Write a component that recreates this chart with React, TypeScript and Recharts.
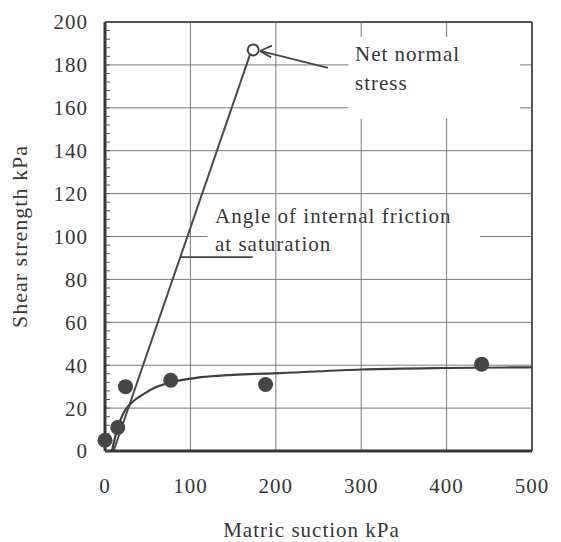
import React from "react";
import {
  ComposedChart,
  Line,
  Scatter,
  XAxis,
  YAxis,
  ReferenceLine,
  Label,
} from "recharts";

// measured points (filled)
const pointSuction = [0, 15, 24, 77, 188, 441];
const pointStrength = [5, 11, 30, 33, 31, 40.5];

// fitted curve through the measured points
const curveSuction = [8, 15, 22, 30, 45, 60, 77, 105, 150, 205, 300, 400, 500];
const curveStrength = [0, 11, 18, 22, 26.5, 29.8, 32, 34, 35.5, 36.3, 38, 38.7, 39];

// straight line, angle of internal friction at saturation
const frictionSuction = [10, 170];
const frictionStrength = [0, 185];

// net normal stress (hollow point)
const stressSuction = [173.5];
const stressStrength = [187];

const xTicks = [0, 100, 200, 300, 400, 500];
const yMinorTicks = Array.from({ length: 51 }, (_, i) => i * 4);

const zip = (xs: number[], ys: number[]) => xs.map((x, i) => ({ x, y: ys[i] }));

const points = zip(pointSuction, pointStrength);
const curve = zip(curveSuction, curveStrength);
const friction = zip(frictionSuction, frictionStrength);
const stress = zip(stressSuction, stressStrength);

// grid drawn as segments, with the gaps the original leaves round its labels
const gridSegments = [
  [0, 20, 500, 20],
  [0, 40, 500, 40],
  [0, 60, 500, 60],
  [0, 80, 500, 80],
  [0, 100, 120, 100],
  [439, 100, 500, 100],
  [0, 120, 500, 120],
  [0, 140, 500, 140],
  [0, 160, 285, 160],
  [486, 160, 500, 160],
  [0, 180, 285, 180],
  [486, 180, 500, 180],
  [100, 0, 100, 200],
  [200, 0, 200, 200],
  [300, 0, 300, 155],
  [300, 193, 300, 200],
  [400, 0, 400, 155],
  [400, 193, 400, 200],
];

// arrow to the hollow point, and the pointer under "at saturation"
const arrowSegments = [
  [181.5, 186.5, 261, 178.6],
  [181.5, 186.5, 195.5, 189],
  [181.5, 186.5, 194.5, 183.5],
  [88, 90.4, 173, 90.4],
];

const ink = "#363636";
const font = "'Liberation Serif', serif";
const textStyle = { fontFamily: font, fontSize: 21, fill: ink, letterSpacing: 1 };

export default function App() {
  return (
    <div style={{ position: "absolute", left: 0, top: 0, width: 561, height: 542, background: "#fff" }}>
      <ComposedChart width={561} height={542} margin={{ top: 22, right: 29, bottom: 0, left: 0 }}>
        <XAxis
          dataKey="x"
          type="number"
          domain={[0, 500]}
          ticks={xTicks}
          height={91}
          tickLine={false}
          tickMargin={21}
          axisLine={{ stroke: ink, strokeWidth: 3 }}
          tick={textStyle}
        >
          <Label
            value="Matric suction kPa"
            position="insideBottom"
            offset={5}
            dx={-7}
            style={textStyle}
          />
        </XAxis>
        <YAxis
          dataKey="y"
          type="number"
          domain={[0, 200]}
          ticks={yMinorTicks}
          interval={0}
          width={105}
          tickSize={-5}
          tickMargin={22}
          tickFormatter={(v: number) => (v % 20 === 0 ? String(v) : "")}
          tickLine={{ stroke: "#555" }}
          axisLine={{ stroke: ink, strokeWidth: 3 }}
          tick={textStyle}
        >
          <Label
            value="Shear strength kPa"
            angle={-90}
            position="insideLeft"
            offset={19}
            style={{ ...textStyle, fontSize: 22, textAnchor: "middle" }}
          />
        </YAxis>

        {gridSegments.map(([x1, y1, x2, y2], i) => (
          <ReferenceLine
            key={"g" + i}
            segment={[{ x: x1, y: y1 }, { x: x2, y: y2 }]}
            stroke="#7a7a7a"
            strokeWidth={1}
          />
        ))}
        <ReferenceLine y={200} stroke="#555" strokeWidth={2} />
        <ReferenceLine x={500} stroke="#555" strokeWidth={2} />

        {arrowSegments.map(([x1, y1, x2, y2], i) => (
          <ReferenceLine
            key={"a" + i}
            segment={[{ x: x1, y: y1 }, { x: x2, y: y2 }]}
            stroke="#444"
            strokeWidth={1.8}
          />
        ))}

        <Line
          data={friction}
          dataKey="y"
          type="linear"
          stroke="#4a4a4a"
          strokeWidth={2}
          dot={false}
          isAnimationActive={false}
        />
        <Line
          data={curve}
          dataKey="y"
          type="monotone"
          stroke="#3f3f3f"
          strokeWidth={2.2}
          dot={false}
          isAnimationActive={false}
        />
        <Scatter
          data={points}
          isAnimationActive={false}
          shape={(p: any) => <circle cx={p.cx} cy={p.cy} r={7.5} fill="#464646" />}
        />
        <Scatter
          data={stress}
          isAnimationActive={false}
          shape={(p: any) => (
            <circle cx={p.cx} cy={p.cy} r={5.5} fill="#fff" stroke="#444" strokeWidth={2} />
          )}
        />

        <text x={355} y={61} style={textStyle}>Net normal</text>
        <text x={355} y={90} style={textStyle}>stress</text>
        <text x={215} y={223} style={textStyle}>Angle of internal friction</text>
        <text x={215} y={251} style={textStyle}>at saturation</text>
      </ComposedChart>
    </div>
  );
}
